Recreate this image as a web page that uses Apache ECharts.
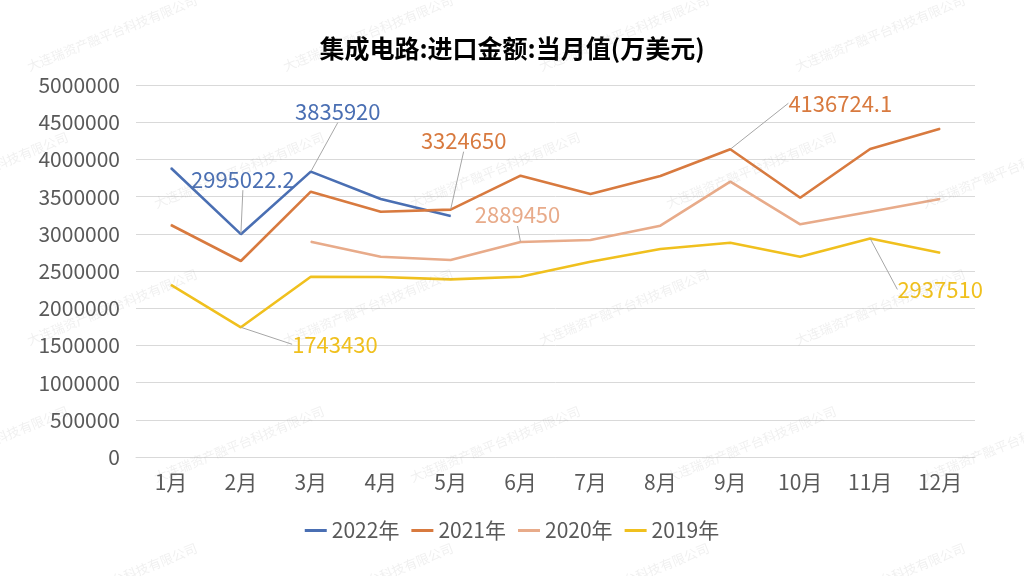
<!DOCTYPE html>
<html style="height:100%">
<head>
    <meta charset="utf-8">
    <title>集成电路进口金额</title>
    <script src="https://cdn.jsdelivr.net/npm/echarts@6/dist/echarts.min.js"></script>
</head>
<body style="height:100%;width:100%;margin:0;background:#fff;">
    <div id="main" style="width:1024px;height:576px;margin:0"></div>
    <script type="text/javascript">
        // 数据
        var months = ['1月', '2月', '3月', '4月', '5月', '6月', '7月', '8月', '9月', '10月', '11月', '12月'];
        var years = ['2022年', '2021年', '2020年', '2019年'];
        var y2022 = [3884000, 2995022.2, 3835920, 3468000, 3239000];
        var y2021 = [3118000, 2634000, 3566000, 3297000, 3324650, 3781000, 3535000, 3777000, 4136724.1, 3485000, 4140000, 4413000];
        var y2020 = [null, null, 2894000, 2692000, 2648000, 2889450, 2917000, 3109000, 3700000, 3128000, 3297000, 3468000];
        var y2019 = [2312000, 1743430, 2423000, 2420000, 2388000, 2423000, 2625000, 2796000, 2880000, 2692000, 2937510, 2746000];

        var colors = ['#4a6fb3', '#d87a3f', '#e8ab8a', '#f0c01e'];
        var font = '"Noto Sans CJK SC", "Noto Sans", sans-serif';

        // 标注位置: 系列序号 -> {数据序号: [dx, dy]}
        var callouts = [
            {1: [2, -55], 2: [27, -60]},
            {4: [13, -69], 8: [110, -46]},
            {5: [-3, -27]},
            {1: [94, 17], 10: [70, 51]}
        ];

        function build(values, si) {
            return values.map(function (v, i) {
                if (callouts[si][i] && v != null) {
                    return {value: v, label: {show: true}};
                }
                return v;
            });
        }

        // 水印
        var wm = [];
        for (var r = 0; r < 5; r++) {
            var y0 = 73 + r * 137;
            var x0 = (r % 2 === 0) ? 30 : 157;
            for (var k = -1; k < 4; k++) {
                wm.push({
                    type: 'text',
                    x: x0 + k * 256,
                    y: y0,
                    rotation: 0.38,
                    silent: true,
                    z: 100,
                    style: {
                        text: '大连瑞资产融平台科技有限公司',
                        fill: 'rgba(150,150,150,0.14)',
                        font: '13px "Noto Sans CJK SC", serif',
                        textVerticalAlign: 'bottom'
                    }
                });
            }
        }

        var myChart = echarts.init(document.getElementById('main'));
        var allData = [y2022, y2021, y2020, y2019];
        myChart.setOption({
            animation: false,
            color: colors,
            title: {
                text: '集成电路:进口金额:当月值(万美元)',
                left: 'center',
                top: 31,
                textStyle: {fontSize: 25, fontWeight: 'bold', color: '#000', fontFamily: font}
            },
            legend: {
                data: years,
                bottom: 30,
                left: 'center',
                icon: 'rect',
                itemWidth: 22,
                itemHeight: 3,
                itemGap: 12,
                textStyle: {fontSize: 21, color: '#595959', fontFamily: font}
            },
            grid: {left: 136, right: 49, top: 85, bottom: 119},
            xAxis: {
                type: 'category',
                data: months,
                boundaryGap: true,
                axisLine: {show: true, lineStyle: {color: '#d9d9d9'}},
                axisTick: {show: false},
                axisLabel: {fontSize: 21, color: '#595959', margin: 15, fontFamily: font}
            },
            yAxis: {
                type: 'value',
                min: 0,
                max: 5000000,
                interval: 500000,
                axisLine: {show: false},
                axisTick: {show: false},
                splitLine: {lineStyle: {color: '#d9d9d9'}},
                axisLabel: {
                    fontSize: 21,
                    color: '#595959',
                    margin: 16,
                    fontFamily: font,
                    formatter: function (v) { return String(v); }
                }
            },
            graphic: wm,
            series: allData.map(function (d, si) {
                return {
                    name: years[si],
                    type: 'line',
                    data: build(d, si),
                    symbol: 'circle',
                    symbolSize: 1,
                    showSymbol: true,
                    connectNulls: false,
                    lineStyle: {width: 2.6, color: colors[si]},
                    itemStyle: {color: colors[si]},
                    label: {
                        show: false,
                        position: 'inside',
                        fontSize: 22,
                        color: colors[si],
                        fontFamily: font
                    },
                    labelLine: {
                        show: true,
                        lineStyle: {color: '#a6a6a6', width: 1}
                    },
                    labelLayout: function (params) {
                        var off = callouts[si][params.dataIndex];
                        if (!off) return {};
                        return {dx: off[0], dy: off[1]};
                    }
                };
            })
        });
    </script>
</body>
</html>
